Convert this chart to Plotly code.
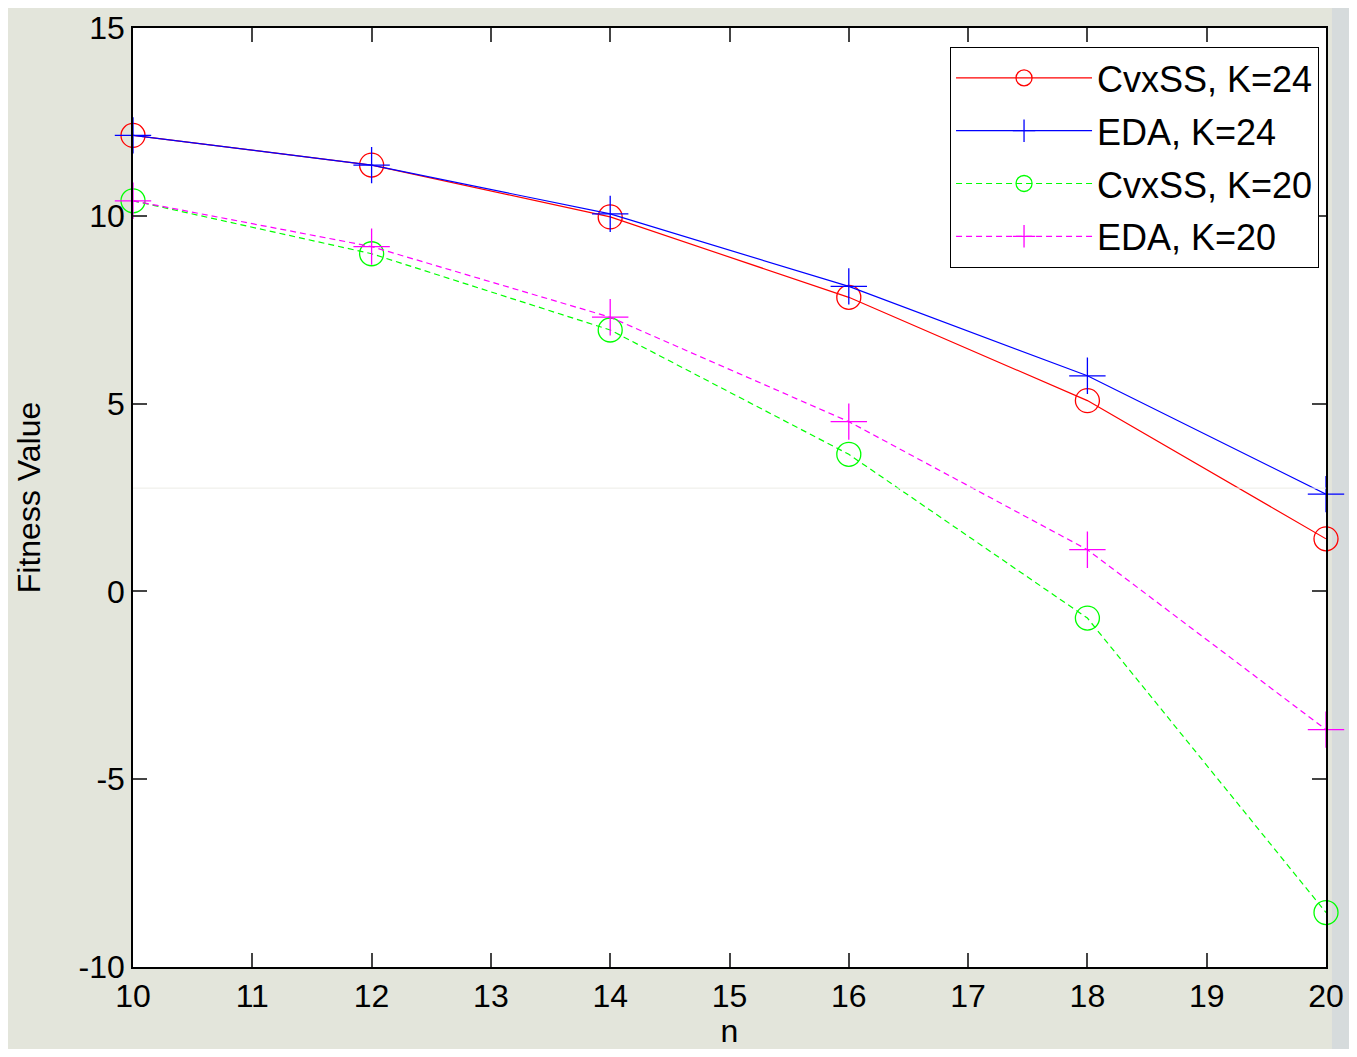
import plotly.graph_objects as go

n_values = [10, 12, 14, 16, 18, 20]
cvxss_k24 = [12.14, 11.35, 9.97, 7.83, 5.08, 1.40]
eda_k24 = [12.14, 11.35, 10.05, 8.12, 5.74, 2.59]
cvxss_k20 = [10.40, 8.99, 6.96, 3.65, -0.71, -8.55]
eda_k20 = [10.40, 9.18, 7.30, 4.52, 1.11, -3.68]

x_ticks = list(range(10, 21))
y_ticks = [-10, -5, 0, 5, 10, 15]

FONT = "Liberation Sans, Arial, sans-serif"

fig = go.Figure()
series = [
    ("CvxSS, K=24", cvxss_k24, "#ff0000", "solid", "circle-open", 24),
    ("EDA, K=24", eda_k24, "#0000ff", "solid", "cross-thin-open", 26),
    ("CvxSS, K=20", cvxss_k20, "#00ff00", "6px,4px", "circle-open", 24),
    ("EDA, K=20", eda_k20, "#ff00ff", "6px,4px", "cross-thin-open", 26),
]
for i, (name, ys, color, dash, sym, size) in enumerate(series):
    fig.add_trace(go.Scatter(
        x=n_values, y=ys, name=name, mode="lines+markers",
        legendgroup=f"g{i}",
        line=dict(color=color, width=1.2, dash=dash),
        marker=dict(symbol=sym, size=size, color=color, line=dict(color=color, width=1.3)),
        cliponaxis=False,
    ))

axis_common = dict(
    showgrid=False, zeroline=False, showline=True, linecolor="black", linewidth=1.5,
    mirror="ticks", ticks="inside", ticklen=14, tickcolor="#444", tickwidth=1.5,
    tickfont=dict(family=FONT, size=32, color="black"), automargin=False,
    ticklabeloverflow="allow",
)
fig.update_xaxes(range=[10, 20], tickvals=x_ticks, ticktext=[str(v) for v in x_ticks],
                 title=dict(text="n", font=dict(family=FONT, size=32, color="black"), standoff=10),
                 **axis_common)
fig.update_yaxes(range=[-10, 15], tickvals=y_ticks, ticktext=[str(v) for v in y_ticks],
                 title=dict(text="Fitness Value", font=dict(family=FONT, size=32, color="black"), standoff=28),
                 **axis_common)

fig.add_shape(type="rect", xref="paper", yref="paper", x0=1.005, x1=1.03, y0=-0.1, y1=1.03,
              fillcolor="#d6dbdc", line_width=0, layer="below")
fig.add_shape(type="line", xref="paper", yref="y", x0=0, x1=1, y0=2.75, y1=2.75,
              line=dict(color="#ecece6", width=1), layer="above")

fig.update_layout(
    width=1341, height=1041,
    margin=dict(l=125, r=23, t=20, b=82),
    paper_bgcolor="#e3e5db", plot_bgcolor="white",
    font=dict(family=FONT, color="black"),
    legend=dict(x=0.994, y=0.98, xanchor="right", yanchor="top",
                bgcolor="white", bordercolor="black", borderwidth=1.2,
                font=dict(family=FONT, size=36, color="black"),
                itemwidth=136, traceorder="grouped", tracegroupgap=3),
)

fig.write_html("out.html")
